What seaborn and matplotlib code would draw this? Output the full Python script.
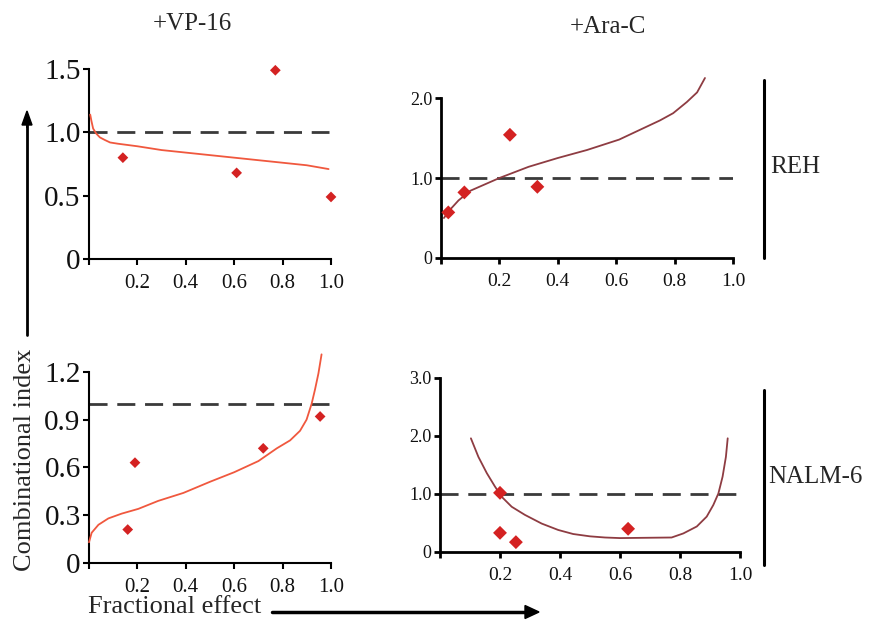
import matplotlib
matplotlib.use("Agg")
import matplotlib.pyplot as plt
import seaborn as sns
import pandas as pd

# ---------------- data ----------------
tl_pts_x = [0.14, 0.61, 0.77, 1.0]
tl_pts_y = [0.80, 0.68, 1.49, 0.49]
tl_curve_x = [0.005, 0.01, 0.017, 0.03, 0.045, 0.065, 0.087, 0.12, 0.2, 0.3, 0.4, 0.5, 0.6, 0.7, 0.8, 0.9, 0.99]
tl_curve_y = [1.14, 1.09, 1.03, 0.99, 0.96, 0.94, 0.92, 0.91, 0.89, 0.86, 0.84, 0.82, 0.80, 0.78, 0.76, 0.74, 0.71]

tr_pts_x = [0.025, 0.08, 0.236, 0.33]
tr_pts_y = [0.57, 0.82, 1.54, 0.89]
tr_curve_x = [0.01, 0.03, 0.06, 0.1, 0.15, 0.2, 0.3, 0.4, 0.5, 0.61, 0.68, 0.75, 0.795, 0.842, 0.877, 0.904]
tr_curve_y = [0.50, 0.60, 0.72, 0.84, 0.92, 1.0, 1.14, 1.25, 1.35, 1.48, 1.60, 1.72, 1.81, 1.95, 2.07, 2.25]

bl_pts_x = [0.16, 0.19, 0.72, 0.955]
bl_pts_y = [0.21, 0.63, 0.72, 0.92]
bl_curve_x = [0.0, 0.011, 0.039, 0.08, 0.135, 0.204, 0.286, 0.39, 0.5, 0.6, 0.7, 0.776, 0.831, 0.872, 0.899, 0.92, 0.934, 0.948, 0.961]
bl_curve_y = [0.13, 0.19, 0.24, 0.28, 0.31, 0.34, 0.39, 0.44, 0.51, 0.57, 0.64, 0.72, 0.77, 0.83, 0.90, 1.00, 1.09, 1.19, 1.31]

br_pts_x = [0.2, 0.2, 0.253, 0.627]
br_pts_y = [1.02, 0.33, 0.17, 0.40]
br_curve_x = [0.103, 0.128, 0.156, 0.183, 0.206, 0.239, 0.283, 0.339, 0.394, 0.444, 0.5, 0.55, 0.6, 0.772,
              0.811, 0.856, 0.889, 0.911, 0.928, 0.942, 0.953, 0.959]
br_curve_y = [1.96, 1.64, 1.36, 1.13, 0.95, 0.78, 0.64, 0.49, 0.38, 0.31, 0.27, 0.25, 0.24, 0.25,
              0.32, 0.44, 0.61, 0.81, 1.01, 1.30, 1.64, 1.96]

x_ticks = [0, 0.2, 0.4, 0.6, 0.8, 1.0]
x_ticklabels = ["", "0.2", "0.4", "0.6", "0.8", "1.0"]
tl_yticks = [0, 0.5, 1.0, 1.5]
tl_yticklabels = ["0", "0.5", "1.0", "1.5"]
tr_yticks = [0, 1.0, 2.0]
tr_yticklabels = ["0", "1.0", "2.0"]
bl_yticks = [0, 0.3, 0.6, 0.9, 1.2]
bl_yticklabels = ["0", "0.3", "0.6", "0.9", "1.2"]
br_yticks = [0, 1.0, 2.0, 3.0]
br_yticklabels = ["0", "1.0", "2.0", "3.0"]

col_titles = ["+VP-16", "+Ara-C"]
row_labels = ["REH", "NALM-6"]
ylabel_text = "Combinational index"
xlabel_text = "Fractional effect"

# ---------------- style ----------------
sns.set_style("ticks")
plt.rcParams["font.family"] = ["Liberation Serif", "DejaVu Serif"]

W, H = 874, 626
fig = plt.figure(figsize=(W / 100, H / 100), dpi=100)


def px_axes(x0, x1, y0, y1):
    return fig.add_axes([x0 / W, 1 - y0 / H, (x1 - x0) / W, (y0 - y1) / H])


left_curve_color = "#f0583e"
right_curve_color = "#8e3c42"
marker_color = "#d42222"
dash_color = "#3a3a3a"


def panel(ax, cx, cy, px, py, ylim, ybound, yticks, yticklabels, curve_color,
          ysize, xsize, msize, spine_w, dash_end):
    df_c = pd.DataFrame({"x": cx, "y": cy})
    df_p = pd.DataFrame({"x": px, "y": py})
    ax.plot([0, dash_end], [1.0, 1.0], color=dash_color, lw=2.0,
            dashes=(6.5, 3.5), zorder=2)
    sns.lineplot(data=df_c, x="x", y="y", ax=ax, color=curve_color, lw=1.3,
                 sort=False, estimator=None, zorder=3, clip_on=False)
    sns.scatterplot(data=df_p, x="x", y="y", ax=ax, color=marker_color,
                    marker="D", s=msize, edgecolor="none", zorder=4, clip_on=False)
    ax.set_xlim(0, 1.0)
    ax.set_ylim(*ylim)
    ax.spines["left"].set_bounds(*ybound)
    ax.spines["bottom"].set_bounds(0, 1.0)
    for s in ("left", "bottom"):
        ax.spines[s].set_linewidth(spine_w)
        ax.spines[s].set_color("black")
    for s in ("top", "right"):
        ax.spines[s].set_visible(False)
    ax.set_xticks(x_ticks)
    ax.set_xticklabels(x_ticklabels, fontsize=xsize)
    ax.set_yticks(yticks)
    ax.set_yticklabels(yticklabels, fontsize=ysize)
    ax.tick_params(axis="both", direction="out", length=4, width=spine_w,
                   color="black", labelcolor="#111111")
    ax.tick_params(axis="x", pad=7)
    ax.tick_params(axis="y", pad=2)
    ax.set_xlabel("")
    ax.set_ylabel("")
    ax.patch.set_alpha(0)


# top-left
ax1 = px_axes(89, 331, 259, 69)
panel(ax1, tl_curve_x, tl_curve_y, tl_pts_x, tl_pts_y, (0, 1.5), (0, 1.5),
      tl_yticks, tl_yticklabels, left_curve_color, 21, 15, 30, 1.5, 0.99)

# top-right
ax2 = px_axes(441, 733, 258, 74)
panel(ax2, tr_curve_x, tr_curve_y, tr_pts_x, tr_pts_y, (0, 2.3), (0, 2.0),
      tr_yticks, tr_yticklabels, right_curve_color, 13, 14, 50, 2.0, 1.0)

# bottom-left
ax3 = px_axes(89, 331, 563, 348)
panel(ax3, bl_curve_x, bl_curve_y, bl_pts_x, bl_pts_y, (0, 1.35), (0, 1.2),
      bl_yticks, bl_yticklabels, left_curve_color, 21, 15, 30, 1.5, 0.99)

# bottom-right
ax4 = px_axes(440, 740, 552, 378)
panel(ax4, br_curve_x, br_curve_y, br_pts_x, br_pts_y, (0, 3.0), (0, 3.0),
      br_yticks, br_yticklabels, right_curve_color, 13, 14, 50, 2.0, 1.0)

# column titles
fig.text(192 / W, 1 - 24 / H, col_titles[0], fontsize=18, ha="center", va="center")
fig.text(608 / W, 1 - 27 / H, col_titles[1], fontsize=18, ha="center", va="center")

# row labels with vertical bars
fig.add_artist(plt.Line2D([764 / W, 764 / W], [1 - 80 / H, 1 - 258 / H], color="black", lw=2.2))
fig.text(770 / W, 1 - 167 / H, row_labels[0], fontsize=18, ha="left", va="center")
fig.add_artist(plt.Line2D([764 / W, 764 / W], [1 - 390 / H, 1 - 565 / H], color="black", lw=2.2))
fig.text(768 / W, 1 - 477 / H, row_labels[1], fontsize=18, ha="left", va="center")

# y-axis label with arrow
fig.text(25 / W, 1 - 460 / H, ylabel_text, fontsize=19, rotation=90, ha="center", va="center")
fig.add_artist(plt.Line2D([27 / W, 27 / W], [1 - 335 / H, 1 - 122 / H], color="black", lw=2.0))
fig.patches.append(matplotlib.patches.FancyArrow(
    27 / W, 1 - 128 / H, 0, 17 / H, width=0.0, head_width=10 / W, head_length=14 / H,
    length_includes_head=True, color="black", transform=fig.transFigure, figure=fig))

# x-axis label with arrow
fig.text(88 / W, 1 - 607 / H, xlabel_text, fontsize=19, ha="left", va="center")
fig.add_artist(plt.Line2D([272 / W, 526 / W], [1 - 612 / H, 1 - 612 / H], color="black", lw=2.5))
fig.patches.append(matplotlib.patches.FancyArrow(
    522 / W, 1 - 612 / H, 17 / W, 0, width=0.0, head_width=13 / H, head_length=14 / W,
    length_includes_head=True, color="black", transform=fig.transFigure, figure=fig))

fig.savefig("out.png", dpi=100, facecolor="white")
